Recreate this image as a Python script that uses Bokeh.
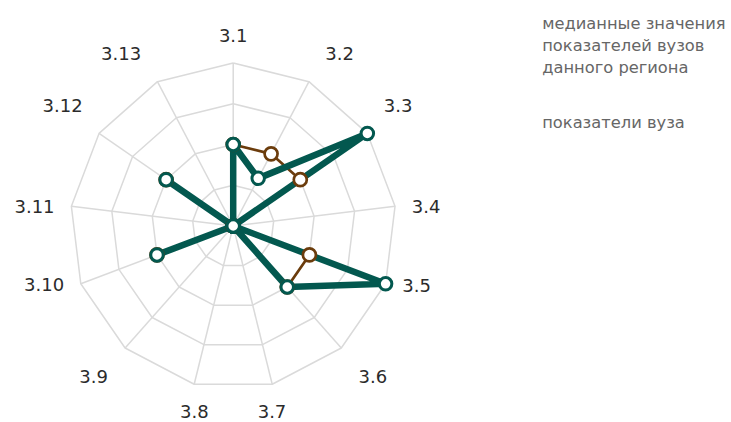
import numpy as np
from bokeh.plotting import figure
from bokeh.models import Range1d, ColumnDataSource
from bokeh.core.properties import value
from bokeh.embed import file_html
from bokeh.resources import INLINE

# ---- data ----
categories = ["3.1", "3.2", "3.3", "3.4", "3.5", "3.6", "3.7",
              "3.8", "3.9", "3.10", "3.11", "3.12", "3.13"]
median_values = [50, 50, 50, 0, 50, 50, 0, 0, 0, 50, 0, 50, 0]
university_values = [50, 33, 100, 0, 100, 50, 0, 0, 0, 50, 0, 50, 0]
scale_max = 100
ring_ticks = [25, 50, 75, 100]
legend_median_lines = ["медианные значения", "показателей вузов", "данного региона"]
legend_university = "показатели вуза"

# ---- layout ----
W, H = 731, 422
CX, CY = 232.7, 225.5
R = 163.0
FONT = value("DejaVu Sans")
GREEN = "#03584f"
BROWN = "#6b3c0c"
# small pixel nudges of the category labels (layout only)
label_dx = [0, 7, 0, -3, -2, 4, -5, 5, -4, 2, 3, 0, -7]
label_dy = [0, -3, -12, 4, -8, 8, 2, 2, 8, -9, 4, -12, -3]

n = len(categories)
ang = 2 * np.pi * np.arange(n) / n


def to_xy(vals):
    r = np.asarray(vals, dtype=float) / scale_max * R
    return CX + r * np.sin(ang), CY - r * np.cos(ang)


p = figure(width=W, height=H, x_range=Range1d(0, W), y_range=Range1d(H, 0),
           output_backend="svg", toolbar_location=None, min_border=0,
           x_axis_location=None, y_axis_location=None)
p.grid.visible = False
p.outline_line_color = None

# grid rings and spokes
ring_xs, ring_ys = [], []
for t in ring_ticks:
    xs, ys = to_xy([t] * n)
    ring_xs.append(list(xs) + [xs[0]])
    ring_ys.append(list(ys) + [ys[0]])
p.multi_line(ring_xs, ring_ys, line_color="#dadada", line_width=1.5)
ox, oy = to_xy([scale_max] * n)
p.segment(x0=[CX] * n, y0=[CY] * n, x1=ox, y1=oy, line_color="#dadada", line_width=1.5)

# series lines
mx, my = to_xy(median_values)
ux, uy = to_xy(university_values)
p.line(list(mx) + [mx[0]], list(my) + [my[0]], line_color=BROWN, line_width=2.7)
p.line(list(ux) + [ux[0]], list(uy) + [uy[0]], line_color=GREEN, line_width=6.5,
       line_join="round")
# markers
p.scatter(mx, my, size=13, fill_color="white", line_color=BROWN, line_width=2.7)
p.scatter(ux, uy, size=12.5, fill_color="white", line_color=GREEN, line_width=3)

# category labels
lx, ly, la = [], [], []
for i, a in enumerate(ang):
    s, c = np.sin(a), np.cos(a)
    lx.append(CX + 183 * s + label_dx[i])
    y = CY - 191 * c + label_dy[i]
    ly.append(min(y, H - 11))
    la.append("left" if s > 0.3 else ("right" if s < -0.3 else "center"))
src = ColumnDataSource(dict(x=lx, y=ly, t=categories, a=la))
p.text(x="x", y="y", text="t", text_align="a", text_baseline="middle",
       text_font=FONT, text_font_size="18px", text_color="#2b2b2b", source=src)

# legend texts
LX = 541.7
p.text(x=[LX] * 3, y=[23.3, 45.0, 66.7], text=legend_median_lines,
       text_align="left", text_baseline="alphabetic", text_font=FONT,
       text_font_size="16.3px", text_color="#666666")
p.text(x=[LX], y=[121.7], text=[legend_university],
       text_align="left", text_baseline="alphabetic", text_font=FONT,
       text_font_size="16.3px", text_color="#666666")

open("out.html", "w").write(file_html(p, INLINE))
